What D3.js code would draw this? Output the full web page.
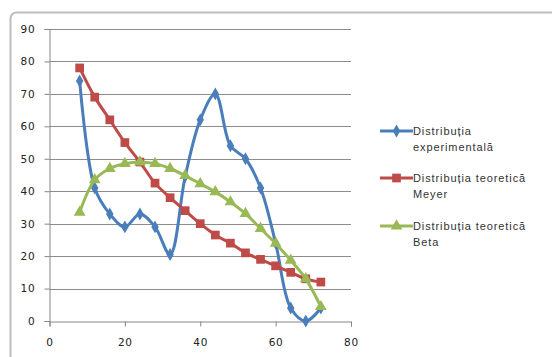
<!DOCTYPE html>
<html>
<head>
<meta charset="utf-8">
<script src="https://cdn.jsdelivr.net/npm/d3@7"></script>
<style>
  html, body { margin: 0; padding: 0; background: #ffffff; }
  svg { display: block; }
</style>
</head>
<body>
<svg id="chart" width="552" height="357"></svg>
<script>
// Sample positions shared by all three series
const xValues = [8, 12, 16, 20, 24, 28, 32, 36, 40, 44, 48, 52, 56, 60, 64, 68, 72];
const experimental = [74, 41, 33, 29, 33, 29, 20.5, 44.5, 62, 70, 54, 50, 41, 24, 4, 0, 4];
const meyer = [78, 69, 62, 55, 49, 42.5, 38, 34, 30, 26.5, 24, 21, 19, 17, 15, 13, 12];
const beta = [33.5, 43.5, 47, 48.5, 49, 48.5, 47, 44.8, 42.3, 39.8, 36.7, 33.1, 28.5, 23.9, 18.7, 13, 4.4];

const seriesNames = [
  ["Distribuția", "experimentală"],
  ["Distribuția teoretică", "Meyer"],
  ["Distribuția teoretică", "Beta"]
];
const seriesColors = ["#4a7ebb", "#be4b48", "#98b954"];
const seriesSymbols = [d3.symbolDiamond, d3.symbolSquare, d3.symbolTriangle];
const seriesSizes = [48, 76, 60];
const xTicks = [0, 20, 40, 60, 80];
const yTicks = [0, 10, 20, 30, 40, 50, 60, 70, 80, 90];

const svg = d3.select("#chart");

// Outer chart frame
svg.append("rect")
  .attr("x", 10.5).attr("y", 12.5)
  .attr("width", 600).attr("height", 400)
  .attr("rx", 6)
  .attr("fill", "#ffffff")
  .attr("stroke", "#bdbdbd")
  .attr("stroke-width", 2);

const x = d3.scaleLinear().domain([0, 80]).range([49.5, 351]);
const y = d3.scaleLinear().domain([0, 90]).range([321, 29]);

// Horizontal gridlines
svg.append("g")
  .selectAll("line")
  .data(yTicks.filter(t => t > 0))
  .join("line")
  .attr("x1", x(0)).attr("x2", x(80))
  .attr("y1", d => Math.round(y(d)) + 0.5)
  .attr("y2", d => Math.round(y(d)) + 0.5)
  .attr("stroke", "#8c8c8c")
  .attr("stroke-width", 1);

const fontFamily = "'DejaVu Sans', Verdana, sans-serif";

// Y axis
const yAxis = svg.append("g")
  .attr("transform", `translate(${x(0)},0)`)
  .call(d3.axisLeft(y).tickValues(yTicks).tickSize(5).tickPadding(9).tickFormat(d3.format("d")));

// X axis
const xAxis = svg.append("g")
  .attr("transform", `translate(0,${y(0) + 0.5})`)
  .call(d3.axisBottom(x).tickValues(xTicks).tickSize(5).tickPadding(12).tickFormat(d3.format("d")));

[yAxis, xAxis].forEach(g => {
  g.select(".domain").attr("stroke", "#868686").attr("stroke-width", 1);
  g.selectAll(".tick line").attr("stroke", "#868686");
  g.selectAll(".tick text")
    .attr("fill", "#222")
    .style("font-family", fontFamily)
    .style("font-size", "10.5px")
    .style("letter-spacing", "0.8px");
});

const allSeries = [experimental, meyer, beta];

const line = d3.line()
  .x(d => x(d[0]))
  .y(d => y(d[1]))
  .curve(d3.curveCatmullRom.alpha(0.5));

allSeries.forEach((vals, i) => {
  const pts = xValues.map((xv, j) => [xv, vals[j]]);
  const g = svg.append("g");
  g.append("path")
    .datum(pts)
    .attr("d", line)
    .attr("fill", "none")
    .attr("stroke", seriesColors[i])
    .attr("stroke-width", 3)
    .attr("stroke-linejoin", "round");
  g.selectAll("path.marker")
    .data(pts)
    .join("path")
    .attr("class", "marker")
    .attr("transform", d => `translate(${x(d[0])},${y(d[1])})`)
    .attr("d", d3.symbol().type(seriesSymbols[i]).size(seriesSizes[i]))
    .attr("fill", seriesColors[i]);
});

// Legend
const legendY = [131, 178, 226];
const legend = svg.append("g");
seriesNames.forEach((lines, i) => {
  const gy = legendY[i];
  legend.append("line")
    .attr("x1", 380).attr("x2", 413)
    .attr("y1", gy).attr("y2", gy)
    .attr("stroke", seriesColors[i])
    .attr("stroke-width", 3);
  legend.append("path")
    .attr("transform", `translate(396.5,${gy})`)
    .attr("d", d3.symbol().type(seriesSymbols[i]).size(seriesSizes[i]))
    .attr("fill", seriesColors[i]);
  lines.forEach((t, k) => {
    legend.append("text")
      .attr("x", 413)
      .attr("y", gy + k * 16)
      .attr("dy", "0.35em")
      .attr("fill", "#333")
      .style("font-family", "'Liberation Sans', Arial, sans-serif")
      .style("font-size", "11px")
      .style("letter-spacing", "0.9px")
      .text(t);
  });
});
</script>
</body>
</html>
